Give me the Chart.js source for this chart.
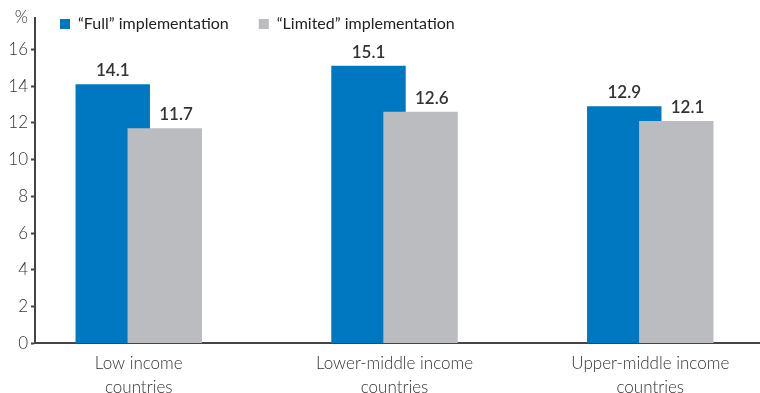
<!DOCTYPE html>
<html>
<head>
<meta charset="utf-8">
<script src="https://cdn.jsdelivr.net/npm/chart.js@4/dist/chart.umd.min.js"></script>
<style>
  html, body { margin: 0; padding: 0; background: #fff; overflow: hidden; }
  #wrap { width: 760px; height: 407px; position: relative; }
</style>
</head>
<body>
<div id="wrap"><canvas id="barChart"></canvas></div>
<script>
const categories = [['Low income', 'countries'], ['Lower-middle income', 'countries'], ['Upper-middle income', 'countries']];
const fullValues = [14.1, 15.1, 12.9];
const limitedValues = [11.7, 12.6, 12.1];
const seriesNames = ['\u201CFull\u201D implementation', '\u201CLimited\u201D implementation'];
const yTicks = [0, 2, 4, 6, 8, 10, 12, 14, 16];
const yMax = 17.7;

const toPoints = (vals) => vals.map((v, i) => ({ x: i, y: v }));

// grey bars overlap the blue ones, so draw the later dataset on top
const overlapOrder = {
  id: 'overlapOrder',
  beforeDatasetsDraw(chart) {
    chart.getSortedVisibleDatasetMetas().forEach((meta) => meta.controller.draw());
    return false;
  }
};

// legend sits further right and higher than chart.js puts it
const legendShift = {
  id: 'legendShift',
  afterLayout(chart) {
    const lg = chart.legend;
    if (!lg) return;
    lg.left = 30;
    lg.top = -14;
    lg.bottom = 40;
  }
};

const valueLabels = {
  id: 'valueLabels',
  afterDraw(chart) {
    const ctx = chart.ctx;
    ctx.save();
    ctx.font = '600 17px Lato';
    ctx.fillStyle = '#333';
    ctx.textAlign = 'center';
    ctx.textBaseline = 'alphabetic';
    const first = chart.getDatasetMeta(0).data;
    chart.data.datasets.forEach((ds, di) => {
      chart.getDatasetMeta(di).data.forEach((bar, j) => {
        let x = bar.x;
        if (di > 0) {
          // centre over the visible part of the grey bar
          const prev = first[j];
          x = (prev.x + prev.width / 2 + bar.x + bar.width / 2) / 2;
        }
        ctx.fillText(ds.data[j].y.toFixed(1), x, bar.y - 8);
      });
    });
    ctx.restore();
  }
};

Chart.defaults.font.family = 'Lato';
Chart.defaults.color = '#333';

new Chart(document.getElementById('barChart'), {
  type: 'bar',
  data: {
    datasets: [
      { label: seriesNames[0], data: toPoints(fullValues), backgroundColor: '#0078C1' },
      { label: seriesNames[1], data: toPoints(limitedValues), backgroundColor: '#BBBCC0' }
    ]
  },
  options: {
    responsive: true,
    maintainAspectRatio: false,
    animation: false,
    categoryPercentage: 0.407,
    barPercentage: 1.43,
    layout: { padding: 0 },
    plugins: {
      tooltip: { enabled: false },
      legend: {
        position: 'top',
        align: 'start',
        maxHeight: 18,
        labels: { boxWidth: 10, boxHeight: 10, padding: 30, color: '#222', font: { size: 16, weight: '400' } }
      }
    },
    scales: {
      x: {
        type: 'linear',
        offset: false,
        bounds: 'data',
        min: -0.4057,
        max: 2.429,
        afterBuildTicks: (axis) => { axis.ticks = categories.map((_, i) => ({ value: i })); },
        grid: { display: false, drawTicks: false, offset: false },
        border: { display: true, color: '#444', width: 2 },
        ticks: {
          padding: 8,
          autoSkip: false,
          maxRotation: 0,
          font: { size: 17, lineHeight: 1.4, weight: '300' },
          color: '#333',
          callback: (v) => categories[v]
        }
      },
      y: {
        min: 0,
        max: yMax,
        afterFit: (axis) => { axis.width = 35; },
        afterBuildTicks: (axis) => { axis.ticks = yTicks.map((v) => ({ value: v })).concat({ value: yMax }); },
        grid: {
          drawOnChartArea: false,
          drawTicks: true,
          tickLength: 4,
          tickWidth: 2,
          tickColor: (c) => (c.tick && c.tick.value === yMax ? 'rgba(0,0,0,0)' : '#444')
        },
        border: { display: true, color: '#444', width: 2 },
        ticks: {
          padding: 3,
          font: { size: 17, weight: '300' },
          color: '#333',
          callback: (v) => (v === yMax ? '%' : v)
        }
      }
    }
  },
  plugins: [overlapOrder, legendShift, valueLabels]
});
</script>
</body>
</html>
